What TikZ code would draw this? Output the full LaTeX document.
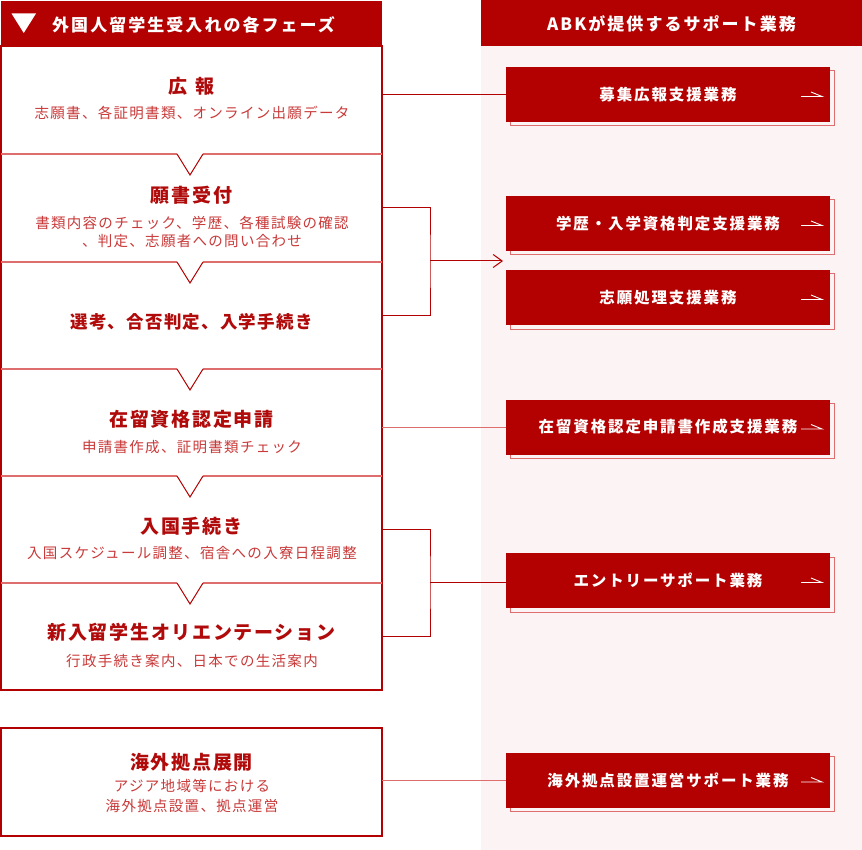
\documentclass[tikz,border=0pt]{standalone}
\usepackage{fontspec}
\setmainfont{Noto Sans CJK JP}
\usetikzlibrary{arrows.meta,shadows}
\definecolor{dred}{HTML}{B30000}
\definecolor{tred}{HTML}{B00A0A}
\definecolor{sred}{HTML}{C93A3A}
\definecolor{lred}{HTML}{DE6E6E}
\definecolor{bgpink}{HTML}{FCF3F4}
\begin{document}
\begin{tikzpicture}[x=1pt,y=-1pt,
  secbox/.style={minimum width=381pt,inner sep=0pt,outer sep=0pt,draw=none},
  frame/.style={draw=dred,line width=1.2pt},
  divline/.style={draw=lred,line width=1.5pt},
  notch/.style={draw=dred,line width=1pt},
  ttl/.style={text=tred,font=\bfseries\fontsize{19}{22}\selectfont\addfontfeature{LetterSpace=9},inner sep=0pt},
  ttlsm/.style={text=tred,font=\bfseries\fontsize{17.5}{21}\selectfont\addfontfeature{LetterSpace=7},inner sep=0pt},
  sub/.style={text=sred,font=\fontsize{14.5}{18}\selectfont\addfontfeature{LetterSpace=9},inner sep=0pt,align=center},
  subw/.style={text=sred,font=\fontsize{14.5}{20}\selectfont\addfontfeature{LetterSpace=9},inner sep=0pt,align=center},
  btn/.style={fill=dred,minimum width=324pt,minimum height=55pt,inner sep=0pt,outer sep=0pt,text=white,
    font=\bfseries\fontsize{15.5}{18}\selectfont\addfontfeature{LetterSpace=12},
    copy shadow={shadow xshift=4pt,shadow yshift=-4pt,fill=none,draw=lred,line width=1pt}},
  hdr/.style={fill=dred,inner sep=0pt,outer sep=0pt,text=white},
  hdrtxt/.style={text=white,font=\bfseries\fontsize{17}{20}\selectfont\addfontfeature{LetterSpace=12},inner sep=0pt},
  conn/.style={draw=dred,line width=1pt},
  connl/.style={draw=lred,line width=1pt}]
\useasboundingbox (0,0) rectangle (862,850);
\fill[white] (0,0) rectangle (862,850);
% right background
\fill[bgpink] (481,46) rectangle (862,850);
% headers
\node[hdr,minimum width=381pt,minimum height=45pt] (hl) at (191.5,23.5) {};
\fill[white] (11.5,13.5) -- (36,13.5) -- (23.75,33) -- cycle;
\node[hdrtxt,anchor=west] (hlt) at (52,25) {外国人留学生受入れの各フェーズ};
\node[hdr,minimum width=381pt,minimum height=46pt] (hr) at (671.5,23) {};
\node[hdrtxt] (hrt) at (671.5,24) {ABKが提供するサポート業務};
% sections
\node[secbox,minimum height=108pt] (s1) at (191.5,100) {};
\node[secbox,minimum height=108pt] (s2) at (191.5,208) {};
\node[secbox,minimum height=107pt] (s3) at (191.5,315.5) {};
\node[secbox,minimum height=107pt] (s4) at (191.5,422.5) {};
\node[secbox,minimum height=107pt] (s5) at (191.5,529.5) {};
\node[secbox,minimum height=107pt] (s6) at (191.5,636.5) {};
\draw[frame] (s1.north west) rectangle (s6.south east);
\foreach \n in {s2,s3,s4,s5,s6}{
  \draw[divline] (\n.north west) -- ([xshift=-14.5pt]\n.north);
  \draw[divline] ([xshift=11.5pt]\n.north) -- (\n.north east);
  \draw[notch] ([xshift=-14.5pt]\n.north) -- ([xshift=-1.5pt,yshift=-21pt]\n.north) -- ([xshift=11.5pt]\n.north);
}
\node[secbox,minimum height=108pt,frame] (s7) at (191.5,782) {};
% texts
\node[ttl] (t1) at (191.5,86) {広\hspace{9pt}報};
\node[sub] (u1) at (192,113) {志願書、各証明書類、オンライン出願データ};
\node[ttl] (t2) at (191.5,195) {願書受付};
\node[sub] (u2) at (192,232) {書類内容のチェック、学歴、各種試験の確認\\、判定、志願者への問い合わせ};
\node[ttlsm] (t3) at (191.5,322) {選考、合否判定、入学手続き};
\node[ttl] (t4) at (191.5,419) {在留資格認定申請};
\node[sub] (u4) at (192,447) {申請書作成、証明書類チェック};
\node[ttl] (t5) at (191.5,526) {入国手続き};
\node[sub] (u5) at (192,553) {入国スケジュール調整、宿舎への入寮日程調整};
\node[ttl] (t6) at (191.5,632) {新入留学生オリエンテーション};
\node[sub] (u6) at (192,661) {行政手続き案内、日本での生活案内};
\node[ttl] (t7) at (191.5,762) {海外拠点展開};
\node[subw] (u7) at (192,796) {アジア地域等における\\海外拠点設置、拠点運営};
% buttons
\node[btn] (b1) at (668,94.5) {募集広報支援業務};
\node[btn] (b2) at (668,223.5) {学歴・入学資格判定支援業務};
\node[btn] (b3) at (668,297.5) {志願処理支援業務};
\node[btn] (b4) at (668,427) {在留資格認定申請書作成支援業務};
\node[btn] (b5) at (668,580.5) {エントリーサポート業務};
\node[btn] (b6) at (668,780) {海外拠点設置運営サポート業務};
\foreach \b in {b1,b2,b3,b4,b5,b6}{
  \draw[white,line width=0.9pt] ([xshift=-29pt,yshift=-2pt]\b.east) -- ([xshift=-8pt,yshift=-2pt]\b.east) -- ([xshift=-19pt,yshift=2.5pt]\b.east);
}
% connectors
\draw[conn] (s1.east |- b1.west) -- (b1.west);
\coordinate (j1) at (430,261);
\coordinate (a1) at (503,261);
\draw[conn] (s2.east) -| (j1) |- (s3.east);
\draw[conn,-{Straight Barb[length=9pt,width=13pt]}] (j1) -- (a1);
\draw[connl] (s4.east |- b4.west) -- (b4.west);
\coordinate (j2) at (430,582);
\draw[conn] (s5.east) -| (j2) |- (s6.east);
\draw[conn] (j2) -- (b5.west |- j2);
\draw[connl] (s7.east |- b6.west) -- (b6.west);
\end{tikzpicture}
\end{document}
